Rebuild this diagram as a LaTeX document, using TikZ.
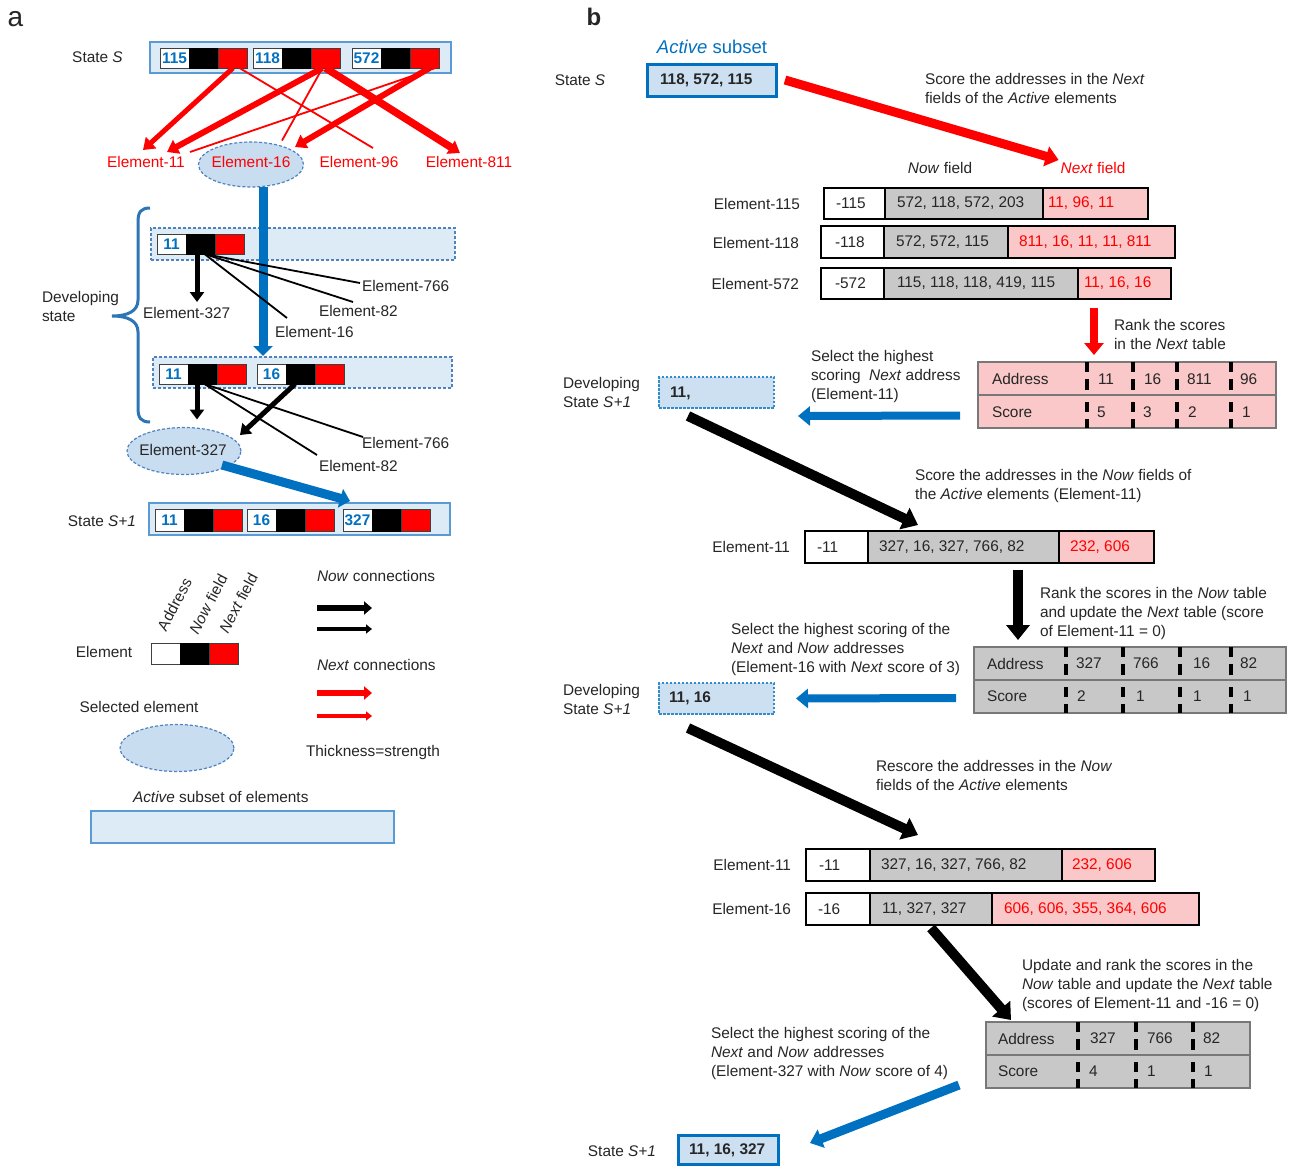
\documentclass[tikz,border=0pt]{standalone}
\usepackage{fontspec}
\setmainfont{Liberation Sans}
\usetikzlibrary{arrows.meta,calc,fit,shapes.geometric}
\definecolor{lblue}{RGB}{221,235,247}
\definecolor{bfill}{RGB}{205,224,242}
\definecolor{efill}{RGB}{200,221,240}
\definecolor{bblue}{RGB}{91,155,213}
\definecolor{dblue}{RGB}{0,112,192}
\definecolor{brblue}{RGB}{46,117,182}
\definecolor{pinkc}{RGB}{250,200,200}
\definecolor{grayc}{RGB}{200,200,200}
\definecolor{tgray}{RGB}{38,38,38}
\definecolor{bordg}{RGB}{120,120,120}
\definecolor{dashb}{RGB}{80,130,190}
\newcommand\basefnt{\fontsize{15.4}{19}\selectfont}
\newcommand\mkel[5]{%
  \node[elA, minimum height=#5pt] (#1a) at (#2,#3) {#4};
  \node[elB, minimum height=#5pt] (#1b) at (#1a.north east) {};
  \node[elC, minimum height=#5pt] (#1c) at (#1b.north east) {};}
\newcommand\cellbox[6]{\node[#2, fit={(#3,#4)(#5,#6)}] (#1) {};}
\tikzset{
  txt/.style={inner sep=0pt, outer sep=0pt, text=tgray},
  rtxt/.style={txt, text=red},
  mtxt/.style={txt, align=left, anchor=north west},
  btxt/.style={txt, font=\basefnt\bfseries, anchor=west},
  elA/.style={draw=black!75, line width=0.8pt, fill=white, text=dblue, font=\basefnt\bfseries,
    inner sep=0pt, outer sep=0pt, minimum width=29pt, anchor=north west},
  elB/.style={elA, fill=black, draw=black},
  elC/.style={elA, fill=red, draw=black!75},
  statebox/.style={draw=bblue, fill=lblue, line width=1.5pt, inner sep=0pt, outer sep=0pt},
  devbox/.style={draw=dashb, fill=lblue, line width=1.2pt, dash pattern=on 3pt off 2pt, inner sep=0pt, outer sep=0pt},
  selell/.style={ellipse, draw=dashb, fill=efill, line width=1.2pt, dash pattern=on 3pt off 2pt, inner sep=0pt, outer sep=0pt},
  bbox/.style={draw=dblue, fill=bfill, line width=3pt, inner sep=0pt, outer sep=0pt},
  dvbox/.style={draw=dblue!80, fill=bfill, line width=1.2pt, dash pattern=on 2.5pt off 1.5pt, inner sep=0pt, outer sep=0pt},
  cw/.style={draw=black, line width=2.5pt, fill=white, inner sep=0pt, outer sep=0pt},
  cg/.style={cw, fill=grayc},
  cp/.style={cw, fill=pinkc},
  tblp/.style={draw=bordg, line width=1.5pt, fill=pinkc, inner sep=0pt, outer sep=0pt},
  tblg/.style={tblp, fill=grayc},
  sepd/.style={draw=black, line width=3.5pt, dash pattern=on 10pt off 7pt on 11pt off 12pt},
  nxt/.style={draw=red, -{Triangle[length=11pt,width=15pt]}},
  nxtthin/.style={draw=red, line width=1.8pt},
  nowa/.style={draw=black, -{Triangle[length=10pt,width=14pt]}},
  nowthin/.style={draw=black, line width=1.8pt},
  sela/.style={draw=dblue, line width=9pt, -{Triangle[length=10pt,width=19pt]}},
  bigblk/.style={draw=black, line width=10pt, -{Triangle[length=15pt,width=23pt]}},
  bigblue/.style={draw=dblue, line width=8pt, -{Triangle[length=12pt,width=19pt]}},
  bigred/.style={draw=red, line width=9pt, -{Triangle[length=13pt,width=20pt]}},
}
\begin{document}
\begin{tikzpicture}[x=1pt,y=-1pt,font=\basefnt]
\useasboundingbox (0,0) rectangle (1290,1165);
\fill[white] (0,0) rectangle (1290,1165);

% ================= panel a =================
\node[txt, font=\fontsize{28}{30}\selectfont] (lbla) at (15.5,19.5) {a};
\node[txt] (lstS) at (97.5,57) {State \textit{S}};
\node[statebox, fit={(150,42)(451,73)}] (stS) {};
\mkel{s1}{160}{48}{115}{20}
\mkel{s2}{253}{48}{118}{20}
\mkel{s3}{352}{48}{572}{20}

\node[selell, minimum width=105pt, minimum height=45pt] (e16) at (251,164.5) {};
\node[rtxt] (e16t) at (251,162) {Element-16};
\node[rtxt] (e11) at (146,162) {Element-11};
\node[rtxt] (e96) at (359,162) {Element-96};
\node[rtxt] (e811) at (469,162) {Element-811};

\draw[nxt, line width=5pt] ($(s1c.south)+(0.5,0)$) -- ($(e11)+(-3,-12)$);
\draw[nxtthin] ($(s1c.south)+(7,0)$) -- ($(e96)+(14,-14)$);
\draw[nxt, line width=6pt] ($(s2c.south)+(-3,0)$) -- ($(e11)+(21,-10)$);
\draw[nxtthin] ($(s2c.south)+(-3,0)$) -- ($(e16)+(31,-24)$);
\draw[nxt, line width=7.5pt] (s2c.south) -- ($(e811)+(-9,-9)$);
\draw[nxtthin] ($(s3c.south)+(11,0)$) -- ($(e11)+(44,-10)$);
\draw[nxt, line width=6pt] ($(s3c.south)+(5,0)$) -- ($(e16)+(44,-17.5)$);

% developing state
\node[devbox, fit={(151,228)(455,260)}] (dev1) {};
\mkel{d1}{157}{234}{11}{20}
\node[devbox, fit={(153,357)(452,388)}] (dev2) {};
\mkel{d2}{159}{364}{11}{20}
\mkel{d3}{257}{364}{16}{20}

\draw[sela] ($(e16.south)+(12,0)$) -- ($(dev2.north west)+(110,-1)$);

\draw[brblue, line width=3pt] (150,208) .. controls (141,208) and (138,212) .. (138,222)
  -- (138,300) .. controls (138,311) and (128,316) .. (112,316)
  .. controls (128,316) and (138,321) .. (138,332)
  -- (138,408) .. controls (138,418) and (141,422) .. (150,422);
\node[mtxt] (ldev) at (42,291) {Developing\\state};

\node[txt, anchor=west] (l766a) at (362,286) {Element-766};
\node[txt, anchor=west] (l82a) at (319,311) {Element-82};
\node[txt, anchor=west] (l327a) at (143,313) {Element-327};
\node[txt, anchor=west] (l16a) at (275,332) {Element-16};

\draw[nowa, line width=5pt] ($(d1b.south)+(-3.5,0)$) -- ($(l327a.west)+(54,-11)$);
\draw[nowthin] ($(d1b.south)+(4,0)$) -- ($(l766a.west)+(-2,-3)$);
\draw[nowthin] ($(d1b.south)+(4,0)$) -- ($(l82a.west)+(34,-9)$);
\draw[nowthin] ($(d1b.south)+(4,0)$) -- ($(l16a.west)+(12,-14)$);

\node[selell, minimum width=114pt, minimum height=47pt] (e327) at (184,451) {};
\node[txt] (e327t) at (183,450) {Element-327};
\node[txt, anchor=west] (l766b) at (362,443) {Element-766};
\node[txt, anchor=west] (l82b) at (319,466) {Element-82};

\draw[nowa, line width=5pt] ($(d2b.south)+(-5.5,0)$) -- ($(e327.north)+(13,-8)$);
\draw[nowthin] ($(d2b.south)+(2,0)$) -- ($(l766b.west)+(1,-6)$);
\draw[nowthin] ($(d2b.south)+(2,0)$) -- ($(l82b.west)+(-2,-11)$);
\draw[nowa, line width=5pt] ($(d3b.south)+(-5.5,0)$) -- ($(e327)+(56,-16)$);

\node[txt] (lsp1) at (102,521) {State \textit{S+1}};
\node[statebox, fit={(149,503)(450,535)}] (sp1) {};
\mkel{f1}{155}{509}{11}{22}
\mkel{f2}{247}{509}{16}{22}
\mkel{f3}{343}{509}{327}{22}
\draw[sela] ($(e327)+(38,14)$) -- ($(sp1.north west)+(201,-2)$);

% legend
\node[txt] (lel) at (104,652) {Element};
\mkel{lg}{151}{643}{}{21}
\node[txt, rotate=62, anchor=base west] (lad) at (166,632) {Address};
\node[txt, rotate=62, anchor=base west] (lnf) at (198,635) {\textit{Now} field};
\node[txt, rotate=62, anchor=base west] (lxf) at (228,634) {\textit{Next} field};

\node[txt, anchor=west] (lnc) at (317,576) {\textit{Now} connections};
\coordinate (na1) at (317,608); \coordinate (na2) at (372,608);
\coordinate (na3) at (317,629); \coordinate (na4) at (372,629);
\draw[draw=black, line width=6.5pt, -{Triangle[length=8pt,width=13pt]}] (na1) -- (na2);
\draw[draw=black, line width=3.5pt, -{Triangle[length=6pt,width=9pt]}] (na3) -- (na4);
\node[txt, anchor=west] (lxc) at (317,665) {\textit{Next} connections};
\coordinate (ra1) at (317,693); \coordinate (ra2) at (372,693);
\coordinate (ra3) at (317,716); \coordinate (ra4) at (372,716);
\draw[draw=red, line width=6.5pt, -{Triangle[length=8pt,width=13pt]}] (ra1) -- (ra2);
\draw[draw=red, line width=3.5pt, -{Triangle[length=6pt,width=9pt]}] (ra3) -- (ra4);
\node[txt, anchor=west] (lts) at (306,753) {Thickness=strength};

\node[txt] (lse) at (139,707) {Selected element};
\node[selell, minimum width=114pt, minimum height=47pt] (lgell) at (177,748) {};
\node[txt, anchor=west] (las) at (133,797) {\textit{Active} subset of elements};
\node[statebox, fit={(91,811)(394,843)}] (lgact) {};

% ================= panel b =================
\node[txt, font=\fontsize{24}{26}\selectfont\bfseries] (lblb) at (594,16.5) {b};
\node[txt, text=dblue, font=\fontsize{18.5}{20}\selectfont] (lact) at (712,47) {\textit{Active} subset};
\node[txt] (lbS) at (580,80) {State \textit{S}};
\node[bbox, fit={(647,64)(776,96)}] (ss) {};
\node[btxt] (sst) at (660,80) {118, 572, 115};

\node[mtxt] (tx1) at (925,73) {Score the addresses in the \textit{Next}\\fields of the \textit{Active} elements};
\node[txt] (lnwf) at (940,168) {\textit{Now} field};
\node[rtxt] (lnxf) at (1093,168) {\textit{Next} field};
\draw[bigred] ($(ss.east)+(9,0)$) -- ($(lnxf.west)+(-2,-8)$);

% rows of the Next step
\node[txt, anchor=east] (le115) at (800,204) {Element-115};
\cellbox{r115a}{cw}{824}{188}{885}{219}
\cellbox{r115b}{cg}{885}{188}{1043}{219}
\cellbox{r115c}{cp}{1043}{188}{1148}{219}
\node[txt, anchor=west] (r115at) at (836,203.5) {-115};
\node[txt, anchor=west] (r115bt) at (897,203.5) {572, 118, 572, 203};
\node[rtxt, anchor=west] (r115ct) at (1048,203.5) {11, 96, 11};

\node[txt, anchor=east] (le118) at (799,243) {Element-118};
\cellbox{r118a}{cw}{821}{226}{884}{258}
\cellbox{r118b}{cg}{884}{226}{1008}{258}
\cellbox{r118c}{cp}{1008}{226}{1175}{258}
\node[txt, anchor=west] (r118at) at (835,242) {-118};
\node[txt, anchor=west] (r118bt) at (896,242) {572, 572, 115};
\node[rtxt, anchor=west] (r118ct) at (1019,242) {811, 16, 11, 11, 811};

\node[txt, anchor=east] (le572) at (799,284) {Element-572};
\cellbox{r572a}{cw}{821}{268}{884}{299}
\cellbox{r572b}{cg}{884}{268}{1078}{299}
\cellbox{r572c}{cp}{1078}{268}{1171}{299}
\node[txt, anchor=west] (r572at) at (835,283.5) {-572};
\node[txt, anchor=west] (r572bt) at (897,283.5) {115, 118, 118, 419, 115};
\node[rtxt, anchor=west] (r572ct) at (1084,283.5) {11, 16, 16};

% Next table
\node[tblp, fit={(978,362)(1276,428)}] (t1) {};
\draw[bordg, line width=1.5pt] (t1.west) -- (t1.east);
\foreach \sx in {109,155,199,253} {
  \draw[sepd] ($(t1.north west)+(\sx,0)$) -- ($(t1.south west)+(\sx,0)$);}
\node[txt, anchor=west] (t1a) at (992,379) {Address};
\node[txt, anchor=west] (t1s) at (992,412) {Score};
\node[txt, anchor=west] (t1a1) at (1098,379) {11};
\node[txt, anchor=west] (t1a2) at (1144,379) {16};
\node[txt, anchor=west] (t1a3) at (1187,379) {811};
\node[txt, anchor=west] (t1a4) at (1240,379) {96};
\node[txt, anchor=west] (t1s1) at (1097,412) {5};
\node[txt, anchor=west] (t1s2) at (1143,412) {3};
\node[txt, anchor=west] (t1s3) at (1188,412) {2};
\node[txt, anchor=west] (t1s4) at (1242,412) {1};

\draw[draw=red, line width=8pt, -{Triangle[length=12pt,width=19pt]}] ($(r572c.south west)+(16,9)$) -- ($(t1.north west)+(116,-7)$);
\node[mtxt] (tx2) at (1114,319) {Rank the scores\\in the \textit{Next} table};
\node[mtxt] (tx3) at (811,350) {Select the highest\\scoring \ \textit{Next} address\\(Element-11)};

\node[mtxt] (ldv1) at (563,377) {Developing\\State \textit{S+1}};
\node[dvbox, fit={(659,377)(774,408)}] (dv1) {};
\node[btxt] (dv1t) at (670,393) {11,};
\draw[bigblue] ($(t1.west)+(-18,20.5)$) -- ($(dv1.east)+(24,23.5)$);

\node[mtxt] (tx4) at (915,469) {Score the addresses in the \textit{Now} fields of\\the \textit{Active} elements (Element-11)};

\node[txt, anchor=east] (le11) at (790,547) {Element-11};
\cellbox{r11a}{cw}{805}{531}{868}{563}
\cellbox{r11b}{cg}{868}{531}{1059}{563}
\cellbox{r11c}{cp}{1059}{531}{1154}{563}
\node[txt, anchor=west] (r11at) at (817,547) {-11};
\node[txt, anchor=west] (r11bt) at (879,547) {327, 16, 327, 766, 82};
\node[rtxt, anchor=west] (r11ct) at (1070,547) {232, 606};
\draw[bigblk] ($(dv1.south west)+(29,8)$) -- ($(r11b.north west)+(50,-6)$);

% Now table
\node[tblg, fit={(974,647)(1286,713)}] (t2) {};
\draw[bordg, line width=1.5pt] (t2.west) -- (t2.east);
\foreach \sx in {92,149,206,257} {
  \draw[sepd] ($(t2.north west)+(\sx,0)$) -- ($(t2.south west)+(\sx,0)$);}
\node[txt, anchor=west] (t2a) at (987,663.5) {Address};
\node[txt, anchor=west] (t2s) at (987,696.5) {Score};
\node[txt, anchor=west] (t2a1) at (1076,663.5) {327};
\node[txt, anchor=west] (t2a2) at (1133,663.5) {766};
\node[txt, anchor=west] (t2a3) at (1193,663.5) {16};
\node[txt, anchor=west] (t2a4) at (1240,663.5) {82};
\node[txt, anchor=west] (t2s1) at (1077,696.5) {2};
\node[txt, anchor=west] (t2s2) at (1136,696.5) {1};
\node[txt, anchor=west] (t2s3) at (1193,696.5) {1};
\node[txt, anchor=west] (t2s4) at (1243,696.5) {1};

\draw[bigblk] ($(r11b.south east)+(-41,7)$) -- ($(t2.north west)+(44,-7)$);
\node[mtxt] (tx5) at (1040,587) {Rank the scores in the \textit{Now} table\\and update the \textit{Next} table (score\\of Element-11 = 0)};
\node[mtxt] (tx6) at (731,623) {Select the highest scoring of the\\\textit{Next} and \textit{Now} addresses\\(Element-16 with \textit{Next} score of 3)};

\node[mtxt] (ldv2) at (563,684) {Developing\\State \textit{S+1}};
\node[dvbox, fit={(659,683)(774,714)}] (dv2) {};
\node[btxt] (dv2t) at (669,698.5) {11, 16};
\draw[bigblue] ($(t2.west)+(-18,18)$) -- ($(dv2.east)+(22,0)$);

\node[mtxt] (tx7) at (876,760) {Rescore the addresses in the \textit{Now}\\fields of the \textit{Active} elements};

\node[txt, anchor=east] (le11p) at (791,865) {Element-11};
\cellbox{r11pa}{cw}{806}{849}{870}{881}
\cellbox{r11pb}{cg}{870}{849}{1062}{881}
\cellbox{r11pc}{cp}{1062}{849}{1155}{881}
\node[txt, anchor=west] (r11pat) at (819,865) {-11};
\node[txt, anchor=west] (r11pbt) at (881,865) {327, 16, 327, 766, 82};
\node[rtxt, anchor=west] (r11pct) at (1072,865) {232, 606};
\draw[bigblk] ($(dv2.south west)+(29,14)$) -- ($(r11pb.north west)+(48,-14)$);

\node[txt, anchor=east] (le16) at (791,909) {Element-16};
\cellbox{r16a}{cw}{806}{893}{870}{925}
\cellbox{r16b}{cg}{870}{893}{992}{925}
\cellbox{r16c}{cp}{992}{893}{1199}{925}
\node[txt, anchor=west] (r16at) at (818,909) {-16};
\node[txt, anchor=west] (r16bt) at (882,909) {11, 327, 327};
\node[rtxt, anchor=west] (r16ct) at (1004,909) {606, 606, 355, 364, 606};

% final table
\node[tblg, fit={(986,1022)(1250,1088)}] (t3) {};
\draw[bordg, line width=1.5pt] (t3.west) -- (t3.east);
\foreach \sx in {92,150,207} {
  \draw[sepd] ($(t3.north west)+(\sx,0)$) -- ($(t3.south west)+(\sx,0)$);}
\node[txt, anchor=west] (t3a) at (998,1038.5) {Address};
\node[txt, anchor=west] (t3s) at (998,1071.5) {Score};
\node[txt, anchor=west] (t3a1) at (1090,1038.5) {327};
\node[txt, anchor=west] (t3a2) at (1147,1038.5) {766};
\node[txt, anchor=west] (t3a3) at (1203,1038.5) {82};
\node[txt, anchor=west] (t3s1) at (1089,1071.5) {4};
\node[txt, anchor=west] (t3s2) at (1147,1071.5) {1};
\node[txt, anchor=west] (t3s3) at (1204,1071.5) {1};

\draw[bigblk] ($(r16b.south west)+(61,3)$) -- ($(t3.north west)+(25,-2)$);
\node[mtxt] (tx8) at (1022,959) {Update and rank the scores in the\\\textit{Now} table and update the \textit{Next} table\\(scores of Element-11 and -16 = 0)};
\node[mtxt] (tx9) at (711,1027) {Select the highest scoring of the\\\textit{Next} and \textit{Now} addresses\\(Element-327 with \textit{Now} score of 4)};

\node[txt] (lfS) at (622,1151) {State \textit{S+1}};
\node[bbox, fit={(678,1135)(778,1164)}] (fb) {};
\node[btxt] (fbt) at (689,1150) {11, 16, 327};
\draw[bigblue, line width=9pt] ($(t3.south west)+(-27,-3)$) -- ($(fb.north east)+(32,8)$);
\end{tikzpicture}
\end{document}
